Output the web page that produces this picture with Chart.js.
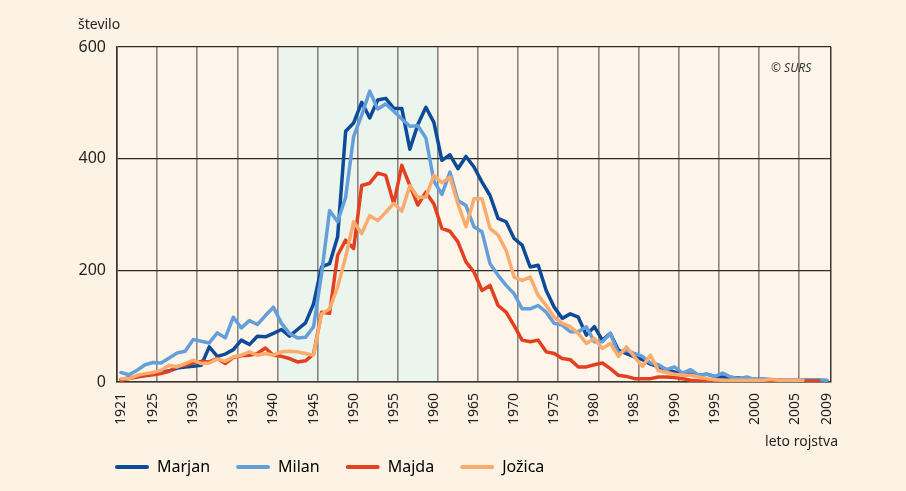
<!DOCTYPE html>
<html>
<head>
<meta charset="utf-8">
<script src="https://cdn.jsdelivr.net/npm/chart.js@4/dist/chart.umd.min.js"></script>
<style>
html,body{margin:0;padding:0;background:#fdf3e4;}
canvas{display:block;}
</style>
</head>
<body>
<canvas id="c" width="906" height="491"></canvas>
<script>
// ---- categories (birth years) ----
const years = [
  1921,1922,1923,1924,1925,1926,1927,1928,1929,1930,
  1931,1932,1933,1934,1935,1936,1937,1938,1939,1940,
  1941,1942,1943,1944,1945,1946,1947,1948,1949,1950,
  1951,1952,1953,1954,1955,1956,1957,1958,1959,1960,
  1961,1962,1963,1964,1965,1966,1967,1968,1969,1970,
  1971,1972,1973,1974,1975,1976,1977,1978,1979,1980,
  1981,1982,1983,1984,1985,1986,1987,1988,1989,1990,
  1991,1992,1993,1994,1995,1996,1997,1998,1999,2000,
  2001,2002,2003,2004,2005,2006,2007,2008,2009
];
// ---- tick labels shown on the x axis ----
const tickLabels = [1921,1925,1930,1935,1940,1945,1950,1955,1960,1965,1970,1975,1980,1985,1990,1995,2000,2005,2009];
const yTicks = [0,200,400,600];
// shaded period
const shadeFrom = 1941, shadeTo = 1960;

// ---- series ----
const marjan = [
  5,7,10,12,15,17,20,25,27,28,
  30,63,46,50,58,75,67,82,81,87,
  94,82,94,106,140,206,212,260,449,464,
  501,473,505,508,490,490,417,461,492,465,
  397,407,382,404,385,358,334,293,287,257,
  245,206,209,164,134,114,122,116,84,99,
  75,87,57,51,45,40,32,27,22,18,
  15,14,12,14,10,9,8,7,6,5,
  5,4,4,3,3,3,2,2,2
];
const milan = [
  17,13,21,31,35,34,43,52,55,76,
  73,70,88,79,116,97,110,103,119,134,
  105,87,79,80,99,194,307,287,331,440,
  478,521,489,498,485,471,458,459,437,360,
  336,376,325,316,278,269,212,191,173,158,
  131,131,137,125,105,102,90,90,99,72,
  72,87,51,57,51,46,34,31,22,27,
  16,22,12,14,10,16,9,6,9,4,
  6,4,4,4,3,4,4,4,3
];
const majda = [
  3,6,9,11,13,15,19,28,30,34,
  37,36,42,33,44,47,48,51,61,48,
  46,42,36,38,50,125,123,227,254,239,
  352,356,374,370,319,388,352,317,340,319,
  275,270,251,215,197,164,173,137,125,101,
  75,72,75,54,51,42,40,27,27,31,
  34,24,12,10,6,6,6,9,9,8,
  6,3,2,2,2,2,1,1,1,1,
  1,1,1,1,1,2,2,2,null
];
const jozica = [
  6,6,12,15,17,21,30,27,33,39,
  33,34,41,37,45,48,54,48,51,48,
  54,55,54,51,48,122,131,170,224,287,
  266,298,289,304,320,306,352,331,331,370,
  357,367,319,278,328,328,275,263,236,188,
  182,188,155,137,116,105,99,87,69,78,
  60,69,46,63,45,28,48,20,17,14,
  12,12,9,6,4,3,3,3,3,3,
  3,5,3,3,3,3,null,null,null
];

const seriesNames = ['Marjan','Milan','Majda','Jožica'];
const seriesColors = ['#0d4a98','#649fd9','#e4401f','#fbac6c'];
const seriesData = [marjan, milan, majda, jozica];

const FONT = "'Noto Sans', 'Open Sans', sans-serif";
Chart.defaults.font.family = FONT;
Chart.defaults.color = '#231f20';

const bgPlugin = {
  id: 'bg',
  afterLayout(chart) {
    // nudge the legend so its first item lines up under the plot
    if (chart.legend) { chart.legend.left += 11; chart.legend.right += 11; }
  },
  beforeDraw(chart) {
    const {ctx, chartArea: a, scales: {x}} = chart;
    ctx.save();
    ctx.fillStyle = '#fdf3e4';
    ctx.fillRect(0, 0, chart.width, chart.height);
    ctx.fillStyle = '#fdf5e9';
    ctx.fillRect(a.left, a.top, a.right - a.left, a.bottom - a.top);
    const x0 = x.getPixelForValue(years.indexOf(shadeFrom) - 0.5);
    const x1 = x.getPixelForValue(years.indexOf(shadeTo) + 0.5);
    ctx.fillStyle = '#ebf5ed';
    ctx.fillRect(x0, a.top, x1 - x0, a.bottom - a.top);
    ctx.restore();
  }
};

const textPlugin = {
  id: 'texts',
  afterDraw(chart) {
    const {ctx, chartArea: a} = chart;
    ctx.save();
    ctx.fillStyle = '#231f20';
    ctx.textBaseline = 'middle';
    ctx.font = '14px ' + FONT;
    ctx.textAlign = 'left';
    ctx.fillText('število', a.left - 39, a.top - 22);
    ctx.textAlign = 'right';
    ctx.fillText('leto rojstva', a.right + 7, a.bottom + 60);
    ctx.font = 'italic 12px ' + FONT;
    ctx.fillStyle = '#333';
    ctx.textAlign = 'left';
    ctx.fillText('© SURS', a.right - 60, a.top + 22);
    ctx.restore();
  }
};

new Chart(document.getElementById('c'), {
  type: 'line',
  data: {
    labels: years.map(String),
    datasets: seriesNames.map((name, i) => ({
      label: name,
      data: seriesData[i],
      borderColor: seriesColors[i],
      backgroundColor: seriesColors[i],
      borderWidth: 3.5,
      pointRadius: 0,
      tension: 0,
      fill: false,
      spanGaps: false,
      borderJoinStyle: 'round',
      borderCapStyle: 'round',
      order: seriesNames.length - i
    }))
  },
  options: {
    responsive: false,
    animation: false,
    devicePixelRatio: 1,
    layout: { padding: { left: 78, right: 75, top: 47, bottom: 6 } },
    plugins: {
      tooltip: { enabled: false },
      legend: {
        position: 'bottom',
        align: 'start',
        labels: {
          boxWidth: 34,
          boxHeight: 4,
          padding: 26,
          useBorderRadius: true,
          borderRadius: 2,
          font: { size: 16, family: FONT },
          color: '#231f20',
          generateLabels: (chart) => chart.data.datasets.map((d, i) => ({
            text: d.label,
            fillStyle: d.borderColor,
            strokeStyle: d.borderColor,
            lineWidth: 0,
            borderRadius: 2,
            hidden: false,
            datasetIndex: i
          }))
        }
      }
    },
    scales: {
      x: {
        type: 'category',
        offset: true,
        grid: {
          offset: true,
          drawTicks: false,
          color: (c) => {
            if (c.index === undefined || c.index === 0) return '#3a3633';
            return (c.index % 5 === 0) ? '#8a8580' : 'rgba(0,0,0,0)';
          },
          lineWidth: (c) => (c.index === undefined || c.index === 0) ? 1.5 : 1.6
        },
        border: { display: true, color: '#3a3633', width: 1.5 },
        ticks: {
          autoSkip: false,
          minRotation: 90,
          maxRotation: 90,
          padding: 11,
          font: { size: 14 },
          color: '#231f20',
          callback: function (v, i) {
            const y = years[i];
            return tickLabels.includes(y) ? String(y) : '';
          }
        },
        afterFit: (s) => { s.height = 51; }
      },
      y: {
        min: 0,
        max: 600,
        afterBuildTicks: (s) => { s.ticks = yTicks.map(v => ({ value: v })); },
        ticks: { padding: 11, font: { size: 16 }, color: '#231f20' },
        grid: { drawTicks: false, color: '#2e2b29', lineWidth: 1.2 },
        border: { display: true, color: '#3a3633', width: 1.5 },
        afterFit: (s) => { s.width = 39; }
      }
    }
  },
  plugins: [bgPlugin, textPlugin]
});
</script>
</body>
</html>
